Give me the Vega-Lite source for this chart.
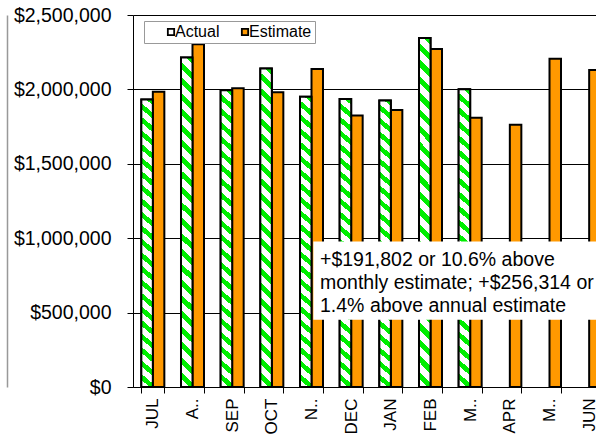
{
  "$schema": "https://vega.github.io/schema/vega-lite/v6.json",
  "autosize": "none",
  "width": 476,
  "height": 372,
  "padding": {"left": 133, "top": 15, "right": 0, "bottom": 57},
  "background": "white",
  "datasets": {
    "revenue": [
      {"month": "JUL", "type": "Actual", "value": 1932000},
      {"month": "JUL", "type": "Estimate", "value": 1985000},
      {"month": "AUG", "type": "Actual", "value": 2215000},
      {"month": "AUG", "type": "Estimate", "value": 2303000},
      {"month": "SEP", "type": "Actual", "value": 1995000},
      {"month": "SEP", "type": "Estimate", "value": 2008000},
      {"month": "OCT", "type": "Actual", "value": 2140000},
      {"month": "OCT", "type": "Estimate", "value": 1981000},
      {"month": "NOV", "type": "Actual", "value": 1950000},
      {"month": "NOV", "type": "Estimate", "value": 2137000},
      {"month": "DEC", "type": "Actual", "value": 1935000},
      {"month": "DEC", "type": "Estimate", "value": 1824000},
      {"month": "JAN", "type": "Actual", "value": 1926000},
      {"month": "JAN", "type": "Estimate", "value": 1862000},
      {"month": "FEB", "type": "Actual", "value": 2345000},
      {"month": "FEB", "type": "Estimate", "value": 2272000},
      {"month": "MAR", "type": "Actual", "value": 2001255},
      {"month": "MAR", "type": "Estimate", "value": 1809453},
      {"month": "APR", "type": "Estimate", "value": 1763000},
      {"month": "MAY", "type": "Estimate", "value": 2206000},
      {"month": "JUN", "type": "Estimate", "value": 2131000}
    ],
    "note": [
      {"from": "NOV", "to": "JUN", "top": 977000, "bottom": 452000, "baseline": 816500}
    ]
  },
  "layer": [
    {
      "data": {"name": "revenue"},
      "mark": {"type": "bar", "stroke": "black", "strokeWidth": 2},
      "encoding": {
        "x": {
          "field": "month",
          "type": "nominal",
          "scale": {
            "domain": ["JUL", "AUG", "SEP", "OCT", "NOV", "DEC", "JAN", "FEB", "MAR", "APR", "MAY", "JUN"],
            "paddingInner": 0.42,
            "paddingOuter": 0.21
          },
          "axis": {
            "title": null,
            "labelAngle": -90,
            "labelFontSize": 17,
            "labelPadding": 5,
            "tickSize": 6,
            "tickBand": "extent",
            "grid": false,
            "labelExpr": "datum.value == 'AUG' ? 'A..' : datum.value == 'NOV' ? 'N..' : (datum.value == 'MAR' || datum.value == 'MAY') ? 'M..' : datum.value"
          }
        },
        "xOffset": {
          "field": "type",
          "type": "nominal",
          "scale": {"domain": ["Actual", "Estimate"], "paddingInner": 0, "paddingOuter": 0}
        },
        "y": {
          "field": "value",
          "type": "quantitative",
          "scale": {"domain": [0, 2500000], "nice": false, "zero": true},
          "axis": {
            "title": null,
            "values": [0, 500000, 1000000, 1500000, 2000000, 2500000],
            "format": "$,.0f",
            "labelFontSize": 19.5,
            "labelPadding": 16,
            "tickSize": 6,
            "grid": true,
            "gridColor": "black",
            "gridWidth": 1
          }
        },
        "fill": {
          "field": "type",
          "type": "nominal",
          "scale": {"domain": ["Actual", "Estimate"], "range": ["#ffffff", "#ff9900"]},
          "legend": {
            "title": null,
            "orient": "none",
            "legendX": 11,
            "legendY": 6,
            "direction": "horizontal",
            "padding": 3,
            "strokeColor": "#999999",
            "fillColor": "white",
            "symbolType": "square",
            "symbolSize": 40,
            "symbolStrokeColor": "black",
            "symbolStrokeWidth": 1.8,
            "symbolOffset": 16,
            "labelOffset": -4,
            "labelFontSize": 16,
            "labelFont": "Liberation Sans",
            "labelColor": "black",
            "columnPadding": 1
          }
        }
      }
    },
    {
      "data": {"name": "revenue"},
      "transform": [{"filter": "datum.type == 'Actual'"}],
      "mark": {
        "type": "bar",
        "stroke": "black",
        "strokeWidth": 2,
        "fill": {
          "gradient": "linear",
          "x1": 0, "y1": -0.035, "x2": -0.035, "y2": 1,
          "stops": [
            {"offset": 0, "color": "#00ee00"}, {"offset": 0.02045, "color": "#00ee00"}, {"offset": 0.02045, "color": "#ffffff"}, {"offset": 0.04545, "color": "#ffffff"},
            {"offset": 0.04545, "color": "#00ee00"}, {"offset": 0.0659, "color": "#00ee00"}, {"offset": 0.0659, "color": "#ffffff"}, {"offset": 0.09091, "color": "#ffffff"},
            {"offset": 0.09091, "color": "#00ee00"}, {"offset": 0.11136, "color": "#00ee00"}, {"offset": 0.11136, "color": "#ffffff"}, {"offset": 0.13636, "color": "#ffffff"},
            {"offset": 0.13636, "color": "#00ee00"}, {"offset": 0.15681, "color": "#00ee00"}, {"offset": 0.15681, "color": "#ffffff"}, {"offset": 0.18182, "color": "#ffffff"},
            {"offset": 0.18182, "color": "#00ee00"}, {"offset": 0.20227, "color": "#00ee00"}, {"offset": 0.20227, "color": "#ffffff"}, {"offset": 0.22727, "color": "#ffffff"},
            {"offset": 0.22727, "color": "#00ee00"}, {"offset": 0.24772, "color": "#00ee00"}, {"offset": 0.24772, "color": "#ffffff"}, {"offset": 0.27273, "color": "#ffffff"},
            {"offset": 0.27273, "color": "#00ee00"}, {"offset": 0.29318, "color": "#00ee00"}, {"offset": 0.29318, "color": "#ffffff"}, {"offset": 0.31818, "color": "#ffffff"},
            {"offset": 0.31818, "color": "#00ee00"}, {"offset": 0.33863, "color": "#00ee00"}, {"offset": 0.33863, "color": "#ffffff"}, {"offset": 0.36364, "color": "#ffffff"},
            {"offset": 0.36364, "color": "#00ee00"}, {"offset": 0.38409, "color": "#00ee00"}, {"offset": 0.38409, "color": "#ffffff"}, {"offset": 0.40909, "color": "#ffffff"},
            {"offset": 0.40909, "color": "#00ee00"}, {"offset": 0.42954, "color": "#00ee00"}, {"offset": 0.42954, "color": "#ffffff"}, {"offset": 0.45455, "color": "#ffffff"},
            {"offset": 0.45455, "color": "#00ee00"}, {"offset": 0.475, "color": "#00ee00"}, {"offset": 0.475, "color": "#ffffff"}, {"offset": 0.5, "color": "#ffffff"},
            {"offset": 0.5, "color": "#00ee00"}, {"offset": 0.52045, "color": "#00ee00"}, {"offset": 0.52045, "color": "#ffffff"}, {"offset": 0.54545, "color": "#ffffff"},
            {"offset": 0.54545, "color": "#00ee00"}, {"offset": 0.5659, "color": "#00ee00"}, {"offset": 0.5659, "color": "#ffffff"}, {"offset": 0.59091, "color": "#ffffff"},
            {"offset": 0.59091, "color": "#00ee00"}, {"offset": 0.61136, "color": "#00ee00"}, {"offset": 0.61136, "color": "#ffffff"}, {"offset": 0.63636, "color": "#ffffff"},
            {"offset": 0.63636, "color": "#00ee00"}, {"offset": 0.65681, "color": "#00ee00"}, {"offset": 0.65681, "color": "#ffffff"}, {"offset": 0.68182, "color": "#ffffff"},
            {"offset": 0.68182, "color": "#00ee00"}, {"offset": 0.70227, "color": "#00ee00"}, {"offset": 0.70227, "color": "#ffffff"}, {"offset": 0.72727, "color": "#ffffff"},
            {"offset": 0.72727, "color": "#00ee00"}, {"offset": 0.74772, "color": "#00ee00"}, {"offset": 0.74772, "color": "#ffffff"}, {"offset": 0.77273, "color": "#ffffff"},
            {"offset": 0.77273, "color": "#00ee00"}, {"offset": 0.79318, "color": "#00ee00"}, {"offset": 0.79318, "color": "#ffffff"}, {"offset": 0.81818, "color": "#ffffff"},
            {"offset": 0.81818, "color": "#00ee00"}, {"offset": 0.83863, "color": "#00ee00"}, {"offset": 0.83863, "color": "#ffffff"}, {"offset": 0.86364, "color": "#ffffff"},
            {"offset": 0.86364, "color": "#00ee00"}, {"offset": 0.88409, "color": "#00ee00"}, {"offset": 0.88409, "color": "#ffffff"}, {"offset": 0.90909, "color": "#ffffff"},
            {"offset": 0.90909, "color": "#00ee00"}, {"offset": 0.92954, "color": "#00ee00"}, {"offset": 0.92954, "color": "#ffffff"}, {"offset": 0.95455, "color": "#ffffff"},
            {"offset": 0.95455, "color": "#00ee00"}, {"offset": 0.975, "color": "#00ee00"}, {"offset": 0.975, "color": "#ffffff"}, {"offset": 1, "color": "#ffffff"}
          ]
        }
      },
      "encoding": {
        "x": {"field": "month", "type": "nominal"},
        "xOffset": {"field": "type", "type": "nominal"},
        "y": {"field": "value", "type": "quantitative"}
      }
    },
    {
      "data": {"name": "note"},
      "mark": {"type": "rect", "fill": "white"},
      "encoding": {
        "x": {"field": "from", "type": "nominal", "bandPosition": 0.58},
        "x2": {"field": "to", "bandPosition": 1},
        "y": {
          "field": "top",
          "type": "quantitative",
          "axis": {"orient": "left", "offset": 126, "labels": false, "ticks": false, "grid": false, "title": null, "domainColor": "#999999", "domainWidth": 1.5}
        },
        "y2": {"field": "bottom"}
      }
    },
    {
      "data": {"name": "note"},
      "mark": {
        "type": "text",
        "align": "left",
        "baseline": "alphabetic",
        "fontSize": 19.5,
        "lineHeight": 23,
        "font": "Liberation Sans",
        "color": "black",
        "text": ["+$191,802 or 10.6% above", "monthly estimate; +$256,314 or", "1.4% above annual estimate"]
      },
      "encoding": {
        "x": {"field": "from", "type": "nominal", "bandPosition": 0.87},
        "y": {"field": "baseline", "type": "quantitative", "axis": null}
      }
    }
  ],
  "resolve": {"axis": {"y": "independent"}},
  "config": {
    "font": "Liberation Sans",
    "view": {"stroke": null},
    "axis": {
      "labelFont": "Liberation Sans",
      "labelColor": "black",
      "domainColor": "black",
      "tickColor": "black",
      "domainWidth": 1,
      "tickWidth": 1
    }
  }
}
